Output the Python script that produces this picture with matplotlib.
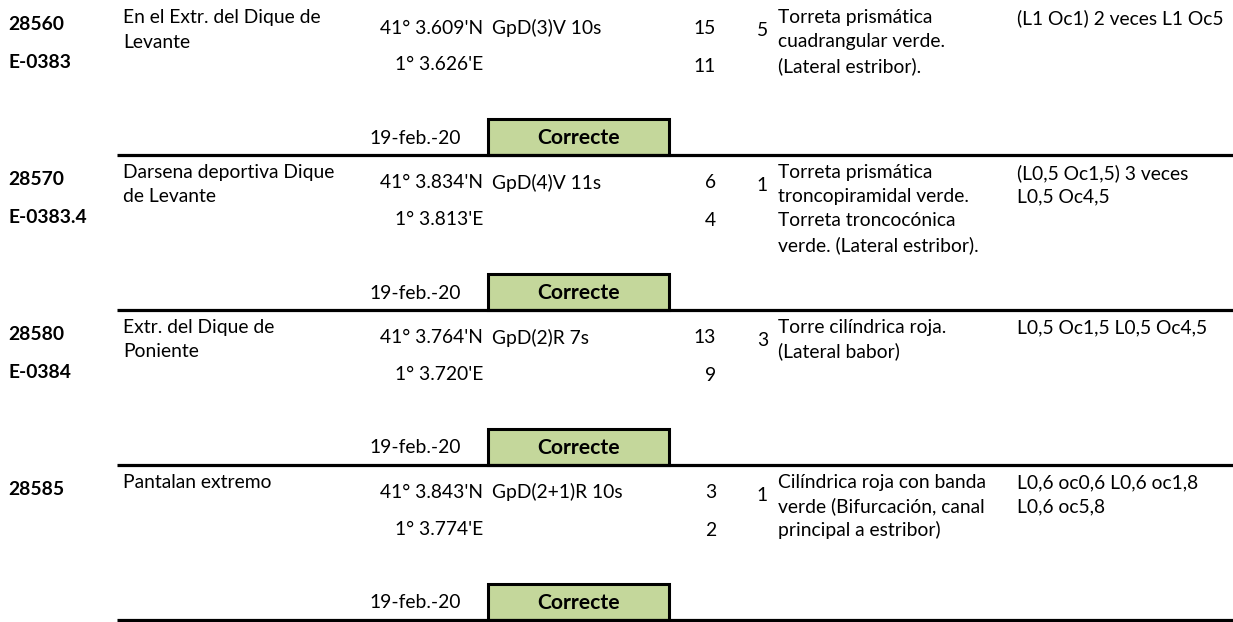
import matplotlib.pyplot as plt
from matplotlib.patches import Rectangle

# table content, one entry per light
ids = ["28560", "28570", "28580", "28585"]
ids_int = ["E-0383", "E-0383.4", "E-0384", ""]
names = [["En el Extr. del Dique de", "Levante"],
         ["Darsena deportiva Dique", "de Levante"],
         ["Extr. del Dique de", "Poniente"],
         ["Pantalan extremo"]]
lats = ["41° 3.609'N", "41° 3.834'N", "41° 3.764'N", "41° 3.843'N"]
lons = ["1° 3.626'E", "1° 3.813'E", "1° 3.720'E", "1° 3.774'E"]
chars = ["GpD(3)V 10s", "GpD(4)V 11s", "GpD(2)R 7s", "GpD(2+1)R 10s"]
elev = [15, 6, 13, 3]
height = [11, 4, 9, 2]
rng = [5, 1, 3, 1]
descs = [["Torreta prismática", "cuadrangular verde.", "(Lateral estribor)."],
         ["Torreta prismática", "troncopiramidal verde.", "Torreta troncocónica",
          "verde. (Lateral estribor)."],
         ["Torre cilíndrica roja.", "(Lateral babor)"],
         ["Cilíndrica roja con banda", "verde (Bifurcación, canal",
          "principal a estribor)"]]
remarks = [["(L1 Oc1) 2 veces L1 Oc5"],
           ["(L0,5 Oc1,5) 3 veces", "L0,5 Oc4,5"],
           ["L0,5 Oc1,5 L0,5 Oc4,5"],
           ["L0,6 oc0,6 L0,6 oc1,8", "L0,6 oc5,8"]]
dates = ["19-feb.-20"] * 4
status = ["Correcte"] * 4

W, H = 1233, 622
fig = plt.figure(figsize=(W / 100, H / 100), dpi=100)
ax = fig.add_axes([0, 0, 1, 1])
ax.set_xlim(0, W)
ax.set_ylim(H, 0)
ax.axis('off')

plt.rcParams['font.family'] = ['Lato', 'DejaVu Sans']
fs = 13.9
green = '#c4d79b'
block = 154.8
lh = 24

for i in range(len(ids)):
    top = i * block + 1
    ax.text(8, top + 24, ids[i], fontsize=fs, fontweight='bold', va='center')
    ax.text(8, top + 62, ids_int[i], fontsize=fs, fontweight='bold', va='center')
    for j, s in enumerate(names[i]):
        ax.text(123, top + 17 + j * lh, s, fontsize=fs, va='center')
    ax.text(483, top + 27, lats[i], fontsize=fs, va='center', ha='right')
    ax.text(483, top + 64, lons[i], fontsize=fs, va='center', ha='right')
    ax.text(492, top + 27, chars[i], fontsize=fs, va='center')
    ax.text(716, top + 27, str(elev[i]), fontsize=fs, va='center', ha='right')
    ax.text(716, top + 65, str(height[i]), fontsize=fs, va='center', ha='right')
    ax.text(768, top + 30, str(rng[i]), fontsize=fs, va='center', ha='right')
    for j, s in enumerate(descs[i]):
        ax.text(778, top + 17 + j * lh, s, fontsize=fs, va='center')
    for j, s in enumerate(remarks[i]):
        ax.text(1017, top + 17 + j * lh, s, fontsize=fs, va='center')

    bottom = top + block - 0.5
    ax.text(461, bottom - 17, dates[i], fontsize=fs, va='center', ha='right')
    ax.add_patch(Rectangle((488, bottom - 36), 181, 36, facecolor=green,
                           edgecolor='black', linewidth=2.2, zorder=2))
    ax.text(579, bottom - 17, status[i], fontsize=15.2, fontweight='bold',
            va='center', ha='center', zorder=3)
    ax.plot([117, W], [bottom, bottom], color='black', lw=2.3,
            solid_capstyle='butt', zorder=4)

fig.savefig('out.png', dpi=100, facecolor='white')
